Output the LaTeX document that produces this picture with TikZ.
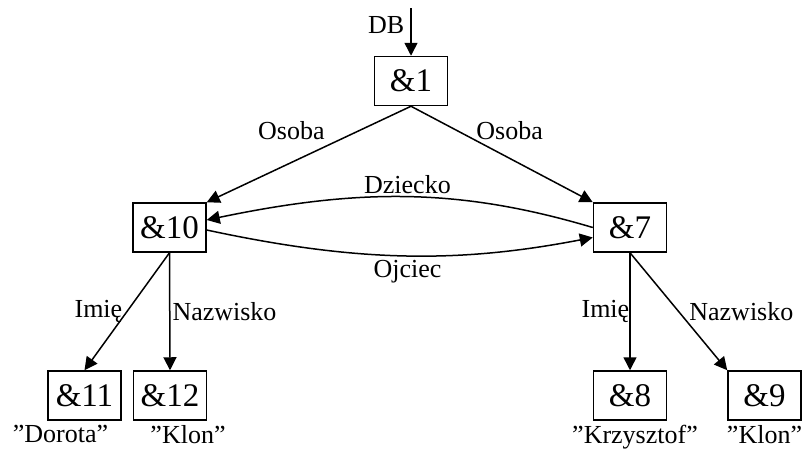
\documentclass[tikz,border=0pt]{standalone}
\usepackage{fontspec}
\setmainfont{Liberation Serif}
\usepackage{tikz}
\usetikzlibrary{
arrows.meta,
positioning
}

\begin{document}
\begin{tikzpicture}[
x=0.5pt,y=-0.5pt,
node distance=0pt,
obj/.style={
draw,
line width=0.75pt,
minimum width=36.5pt,
minimum height=24.5pt,
inner sep=1pt,
font=\fontsize{16.5}{19}\selectfont
},
lbl/.style={font=\fontsize{13}{15}\selectfont},
val/.style={lbl,inner sep=2pt},
arrow/.style={-{Triangle[length=6.5pt,width=6.5pt]},line width=0.75pt}
]
\useasboundingbox (0,0) rectangle (803,450);

% objects
\node[obj] (n1) at (411,81) {\&1};
\node[obj] (n10) at (169.5,227.5) {\&10};
\node[obj] (n7) at (630,227.5) {\&7};
\node[obj] (n11) at (84.5,395.5) {\&11};
\node[obj] (n12) at (170,395.5) {\&12};
\node[obj] (n8) at (630,395.5) {\&8};
\node[obj] (n9) at (764.5,395.5) {\&9};

% atomic values
\node[val,below=of n11,xshift=-12pt] (v11) {''Dorota''};
\node[val,below=of n12,xshift=9pt] (v12) {''Klon''};
\node[val,below=of n8,xshift=2.5pt] (v8) {''Krzysztof''};
\node[val,below=of n9] (v9) {''Klon''};

% entry point
\coordinate (db) at (411,8);
\draw[arrow] (db) -- node[lbl,pos=0.36,left,inner sep=3pt] {DB} (n1);

\draw[arrow] (n1.south) -- node[lbl,pos=0.4,anchor=south east,inner sep=2pt] {Osoba} (n10.north east);
\draw[arrow] (n1.south) -- node[lbl,pos=0.4,anchor=south west,inner sep=0pt,xshift=-4pt,yshift=2pt] {Osoba} (n7.north west);

\draw[arrow] (n7.west) .. controls (460,188) and (360,188) ..
  node[lbl,midway,above,inner sep=1pt] {Dziecko} ([yshift=3.75pt]n10.east);
\draw[arrow] ([yshift=-1.25pt]n10.east) .. controls (360,263) and (460,263) ..
  node[lbl,midway,below,inner sep=2pt] {Ojciec} ([yshift=-5pt]n7.west);

\draw[arrow] (n10.south) -- node[lbl,pos=0.5,anchor=east,inner sep=0pt,xshift=-2pt] {Imię} (n11.north);
\draw[arrow] (n10.south) -- node[lbl,pos=0.5,anchor=west,inner sep=1pt] {Nazwisko} (n12.north);
\draw[arrow] (n7.south) -- node[lbl,pos=0.5,anchor=east,inner sep=0pt] {Imię} (n8.north);
\draw[arrow] (n7.south) -- node[lbl,pos=0.5,anchor=west,inner sep=5pt] {Nazwisko} (n9.north west);

\end{tikzpicture}
\end{document}
